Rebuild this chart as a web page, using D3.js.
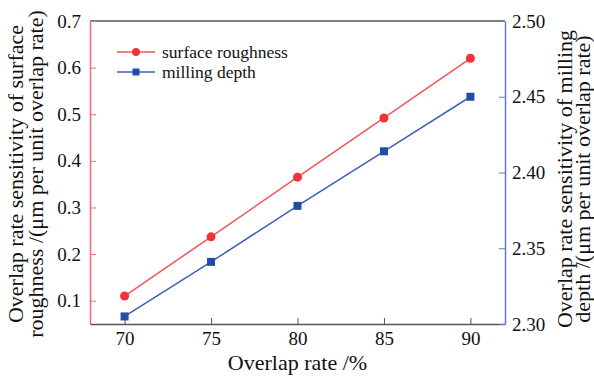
<!DOCTYPE html>
<html>
<head>
<meta charset="utf-8">
<script src="https://cdn.jsdelivr.net/npm/d3@7"></script>
<style>
  body { margin: 0; background: #fff; }
  text { font-family: "Times New Roman", Times, Tinos, "Liberation Serif", "DejaVu Serif"; fill: #111; }
</style>
</head>
<body>
<div id="box-div"></div>
<script>
// data
const overlapRates = [70, 75, 80, 85, 90]
const roughnessSens = [0.110, 0.237, 0.365, 0.492, 0.620]
const depthSens = [2.305, 2.341, 2.378, 2.414, 2.450]
const xTicks = [70, 75, 80, 85, 90]
const leftTicks = [0.1, 0.2, 0.3, 0.4, 0.5, 0.6, 0.7]
const rightTicks = [2.30, 2.35, 2.40, 2.45, 2.50]
const seriesNames = ['surface roughness', 'milling depth']

let dms = {
    width: 594,
    height: 376,
    margin: { top: 21, right: 89, bottom: 52, left: 90 }
}
dms.chartWidth = dms.width - dms.margin.left - dms.margin.right
dms.chartHeight = dms.height - dms.margin.top - dms.margin.bottom

const red = '#f0333a', redLine = '#f25559', redAxis = '#f36a74'
const blue = '#1f4ea3', blueLine = '#3d5fb8', blueAxis = '#5f79cf'

const box = d3.select('#box-div').append('svg')
    .attr('width', dms.width)
    .attr('height', dms.height)
const content = box.append('g')
    .attr('transform', `translate(${dms.margin.left},${dms.margin.top})`)

const xScale = d3.scaleLinear().domain([68, 92]).range([0, dms.chartWidth])
const yLeft = d3.scaleLinear().domain([0.05, 0.7]).range([dms.chartHeight, 0])
const yRight = d3.scaleLinear().domain([2.30, 2.50]).range([dms.chartHeight, 0])

// top frame line
content.append('line')
    .attr('x1', 0).attr('x2', dms.chartWidth)
    .attr('y1', 0).attr('y2', 0)
    .attr('stroke', '#555').attr('stroke-width', 1.5)

// bottom axis, ticks inward
const xAxis = content.append('g')
    .attr('transform', `translate(0,${dms.chartHeight})`)
    .call(d3.axisBottom(xScale).tickValues(xTicks).tickSizeInner(-6).tickSizeOuter(0).tickPadding(8))
xAxis.select('.domain').attr('stroke', '#555').attr('stroke-width', 1.5)
xAxis.selectAll('.tick line').attr('stroke', '#555')
xAxis.selectAll('.tick text').attr('font-size', 19)

// left axis
const lAxis = content.append('g')
    .call(d3.axisLeft(yLeft).tickValues(leftTicks).tickFormat(d3.format('.1f')).tickSizeInner(-6).tickSizeOuter(0).tickPadding(9))
lAxis.select('.domain').attr('stroke', redAxis).attr('stroke-width', 1.5)
lAxis.selectAll('.tick line').attr('stroke', redAxis)
lAxis.selectAll('.tick text').attr('font-size', 19)

// right axis
const rAxis = content.append('g')
    .attr('transform', `translate(${dms.chartWidth},0)`)
    .call(d3.axisRight(yRight).tickValues(rightTicks).tickFormat(d3.format('.2f')).tickSizeInner(-6).tickSizeOuter(0).tickPadding(7))
rAxis.select('.domain').attr('stroke', blueAxis).attr('stroke-width', 1.5)
rAxis.selectAll('.tick line').attr('stroke', blueAxis)
rAxis.selectAll('.tick text').attr('font-size', 19)

// lines
const rData = overlapRates.map((x, i) => ({ x, y: roughnessSens[i] }))
const dData = overlapRates.map((x, i) => ({ x, y: depthSens[i] }))

content.append('path')
    .datum(rData)
    .attr('fill', 'none').attr('stroke', redLine).attr('stroke-width', 1.5)
    .attr('d', d3.line().x(d => xScale(d.x)).y(d => yLeft(d.y)))
content.append('path')
    .datum(dData)
    .attr('fill', 'none').attr('stroke', blueLine).attr('stroke-width', 1.5)
    .attr('d', d3.line().x(d => xScale(d.x)).y(d => yRight(d.y)))

content.selectAll('circle.pt')
    .data(rData)
    .join('circle')
    .attr('class', 'pt')
    .attr('cx', d => xScale(d.x))
    .attr('cy', d => yLeft(d.y))
    .attr('r', 4.5)
    .attr('fill', red)
content.selectAll('rect.pt')
    .data(dData)
    .join('rect')
    .attr('class', 'pt')
    .attr('x', d => xScale(d.x) - 4)
    .attr('y', d => yRight(d.y) - 4)
    .attr('width', 8).attr('height', 8)
    .attr('fill', blue)

// legend
const legend = content.append('g').attr('transform', 'translate(27,31)')
seriesNames.forEach((name, i) => {
    const g = legend.append('g').attr('transform', `translate(0,${i * 20})`)
    g.append('line').attr('x1', 0).attr('x2', 38).attr('y1', 0).attr('y2', 0)
        .attr('stroke', i === 0 ? redLine : blueLine).attr('stroke-width', 1.5)
    if (i === 0) {
        g.append('circle').attr('cx', 19).attr('cy', 0).attr('r', 4).attr('fill', red)
    } else {
        g.append('rect').attr('x', 15.5).attr('y', -3.5).attr('width', 7).attr('height', 7).attr('fill', blue)
    }
    g.append('text').attr('x', 45).attr('y', 0).attr('dy', '0.32em')
        .attr('font-size', 17.5).text(name)
})

// axis titles
content.append('text')
    .attr('x', dms.chartWidth / 2)
    .attr('y', dms.chartHeight + 46)
    .attr('text-anchor', 'middle')
    .attr('font-size', 22)
    .text('Overlap rate /%')

const leftTitle = box.append('text')
    .attr('transform', 'translate(23,174) rotate(-90)')
    .attr('text-anchor', 'middle')
    .attr('font-size', 22)
leftTitle.append('tspan').attr('x', 0).attr('dy', 0).text('Overlap rate sensitivity of surface')
leftTitle.append('tspan').attr('x', 0).attr('dy', 20).text('roughness /(μm per unit overlap rate)')

const rightTitle = box.append('text')
    .attr('transform', 'translate(572,179) rotate(-90)')
    .attr('text-anchor', 'middle')
    .attr('font-size', 22)
rightTitle.append('tspan').attr('x', 0).attr('dy', 0).text('Overlap rate sensitivity of milling')
rightTitle.append('tspan').attr('x', 0).attr('dy', 18).text('depth /(μm per unit overlap rate)')
</script>
</body>
</html>
